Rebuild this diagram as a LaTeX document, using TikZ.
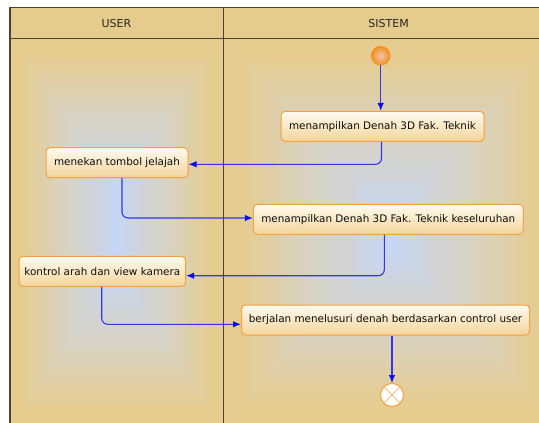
\documentclass[tikz,border=0pt]{standalone}
\usepackage{fontspec}
\setmainfont{DejaVu Sans}
\usetikzlibrary{arrows.meta,calc}
\definecolor{laneO}{HTML}{E6CC8F}
\definecolor{laneM}{HTML}{D6D3C8}
\definecolor{laneC}{HTML}{C6D6F4}
\definecolor{headC}{HTML}{E5CB8C}
\definecolor{frameC}{HTML}{4A4334}
\definecolor{boxO}{HTML}{F7A03C}
\definecolor{boxT}{HTML}{FFFAEE}
\definecolor{boxB}{HTML}{F3D59C}
\definecolor{flowC}{HTML}{3434F2}
\definecolor{tipC}{HTML}{0A0AF5}
\definecolor{startC}{HTML}{F39022}
\definecolor{startI}{HTML}{F3C4AA}
\definecolor{crossC}{HTML}{F8BE84}

% x0 y0 x1 y1 yspan
\newcommand{\lanefill}[5]{%
  \fill[laneO] (#1,#2) rectangle (#3,#4);
  \foreach \i in {0,...,20}{
    \pgfmathsetmacro{\LTt}{0.09+\i*0.46/20}
    \pgfmathsetmacro{\LTp}{\i*5}
    \pgfmathsetmacro{\LTdx}{\LTt*(#3-#1)/2}
    \pgfmathsetmacro{\LTdy}{\LTt*#5}
    \fill[laneM!\LTp!laneO] (#1+\LTdx,#2+\LTdy) rectangle (#3-\LTdx,#4-\LTdy);
  }
  \foreach \i in {1,...,20}{
    \pgfmathsetmacro{\LTt}{0.55+\i*0.42/20}
    \pgfmathsetmacro{\LTp}{100*(\i/20)^1.3}
    \pgfmathsetmacro{\LTdx}{\LTt*(#3-#1)/2}
    \pgfmathsetmacro{\LTdy}{\LTt*#5}
    \fill[laneC!\LTp!laneM] (#1+\LTdx,#2+\LTdy) rectangle (#3-\LTdx,#4-\LTdy);
  }
}

\begin{document}
\begin{tikzpicture}[x=1pt,y=-1pt,
  actbox/.style={draw=boxO, line width=1pt, rounded corners=4pt, top color=boxT, bottom color=boxB,
    minimum height=30pt, inner xsep=0pt, font=\fontsize{10.4}{12}\selectfont, text=black!95},
  flow/.style={draw=flowC, line width=1.1pt, rounded corners=6pt, -{Latex[length=8pt,width=6.5pt,color=tipC]}},
  lanehead/.style={font=\fontsize{11}{13}\selectfont, text=black!85}]
\useasboundingbox (0,0) rectangle (539,423);
\fill[white] (0,0) rectangle (539,423);
\begin{scope}
\clip (0,0) rectangle (539,423);
\lanefill{10}{38.3}{223.4}{424}{150}
\lanefill{223.4}{38.3}{556}{424}{180}
\fill[headC] (10,7.5) rectangle (560,38.3);
\draw[frameC, line width=1.4pt] (10,440) -- (10,7.5) -- (560,7.5);
\draw[frameC, line width=1.4pt] (10,38.3) -- (560,38.3);
\draw[frameC, line width=1.4pt] (223.4,7.5) -- (223.4,440);
\end{scope}

\node[lanehead] (hUser) at (116.5,23) {USER};
\node[lanehead] (hSis) at (388.6,23) {SISTEM};

\node[circle, draw=startC, line width=0.8pt, inner color=startI, outer color=startC,
  minimum size=18.6pt, inner sep=0pt] (start) at (380.7,55.7) {};

\node[actbox, minimum width=203pt] (b1) at (382.5,126.4) {menampilkan Denah 3D Fak. Teknik};
\node[actbox, minimum width=142pt] (b2) at (117,162.7) {menekan tombol jelajah};
\node[actbox, minimum width=270pt] (b3) at (388.3,219.3) {menampilkan Denah 3D Fak. Teknik keseluruhan};
\node[actbox, minimum width=166.6pt] (b4) at (102.3,271.4) {kontrol arah dan view kamera};
\node[actbox, minimum width=288pt] (b5) at (385.5,320) {berjalan menelusuri denah berdasarkan control user};

\node[circle, draw=boxO, fill=white, line width=1pt, minimum size=23pt, inner sep=0pt] (end) at (392,395) {};
\draw[crossC, line width=1pt] (end.north east) -- (end.south west) (end.north west) -- (end.south east);

\draw[flow] (start.south) -- (start.south |- b1.north);
\draw[flow] ([xshift=-1pt]b1.south) |- ([yshift=-1.6pt]b2.east);
\draw[flow] ([xshift=5pt]b2.south) |- ([yshift=1.3pt]b3.west);
\draw[flow] ([xshift=-4pt]b3.south) |- ([yshift=-4.3pt]b4.east);
\draw[flow] ([xshift=-0.6pt]b4.south) |- ([yshift=-4.3pt]b5.west);
\draw[flow] (end.north |- b5.south) -- (end.north);
\end{tikzpicture}
\end{document}
